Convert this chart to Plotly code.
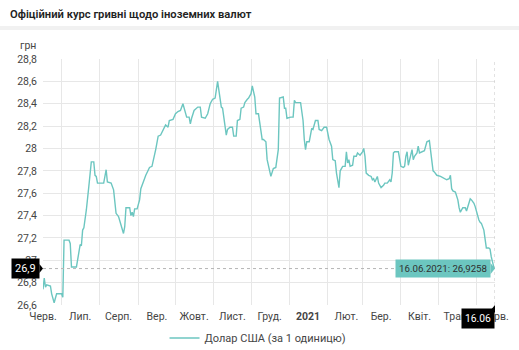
import datetime as dt
import plotly.graph_objects as go

# Official UAH/USD exchange rate (hryvnias per 1 US dollar)
dates = [
    "2020-06-16", "2020-06-17", "2020-06-18", "2020-06-19", "2020-06-22", "2020-06-23",
    "2020-06-25", "2020-06-27", "2020-07-01", "2020-07-02", "2020-07-03", "2020-07-07",
    "2020-07-08", "2020-07-09", "2020-07-13", "2020-07-15", "2020-07-16", "2020-07-17",
    "2020-07-18", "2020-07-19", "2020-07-21", "2020-07-23", "2020-07-25", "2020-07-27",
    "2020-07-28", "2020-07-29", "2020-07-30", "2020-08-04", "2020-08-05", "2020-08-06",
    "2020-08-07", "2020-08-10", "2020-08-12", "2020-08-13", "2020-08-14", "2020-08-16",
    "2020-08-18", "2020-08-20", "2020-08-21", "2020-08-22", "2020-08-25", "2020-08-26",
    "2020-08-27", "2020-08-28", "2020-08-29", "2020-08-31", "2020-09-02", "2020-09-03",
    "2020-09-05", "2020-09-07", "2020-09-10", "2020-09-12", "2020-09-15", "2020-09-17",
    "2020-09-19", "2020-09-22", "2020-09-23", "2020-09-25", "2020-09-26", "2020-09-29",
    "2020-10-01", "2020-10-03", "2020-10-05", "2020-10-07", "2020-10-08", "2020-10-10",
    "2020-10-12", "2020-10-13", "2020-10-14", "2020-10-16", "2020-10-19", "2020-10-21",
    "2020-10-22", "2020-10-25", "2020-10-27", "2020-10-29", "2020-10-31", "2020-11-02",
    "2020-11-04", "2020-11-05", "2020-11-07", "2020-11-08", "2020-11-10", "2020-11-11",
    "2020-11-12", "2020-11-14", "2020-11-16", "2020-11-17", "2020-11-19", "2020-11-20",
    "2020-11-22", "2020-11-23", "2020-11-25", "2020-11-26", "2020-11-28", "2020-11-29",
    "2020-12-01", "2020-12-02", "2020-12-04", "2020-12-05", "2020-12-07", "2020-12-08",
    "2020-12-10", "2020-12-11", "2020-12-13", "2020-12-14", "2020-12-16", "2020-12-17",
    "2020-12-19", "2020-12-21", "2020-12-23", "2020-12-24", "2020-12-27", "2020-12-28",
    "2020-12-29", "2020-12-30", "2021-01-02", "2021-01-04", "2021-01-05", "2021-01-06",
    "2021-01-10", "2021-01-12", "2021-01-13", "2021-01-14", "2021-01-15", "2021-01-17",
    "2021-01-19", "2021-01-20", "2021-01-22", "2021-01-24", "2021-01-25", "2021-01-27",
    "2021-01-29", "2021-01-31", "2021-02-02", "2021-02-04", "2021-02-05", "2021-02-07",
    "2021-02-08", "2021-02-10", "2021-02-11", "2021-02-13", "2021-02-15", "2021-02-16",
    "2021-02-17", "2021-02-18", "2021-02-19", "2021-02-21", "2021-02-22", "2021-02-24",
    "2021-02-25", "2021-02-27", "2021-03-01", "2021-03-02", "2021-03-03", "2021-03-04",
    "2021-03-06", "2021-03-08", "2021-03-09", "2021-03-10", "2021-03-11", "2021-03-13",
    "2021-03-14", "2021-03-16", "2021-03-18", "2021-03-19", "2021-03-21", "2021-03-23",
    "2021-03-24", "2021-03-25", "2021-03-26", "2021-03-27", "2021-03-30", "2021-04-01",
    "2021-04-03", "2021-04-04", "2021-04-05", "2021-04-06", "2021-04-07", "2021-04-09",
    "2021-04-10", "2021-04-11", "2021-04-12", "2021-04-14", "2021-04-15", "2021-04-16",
    "2021-04-18", "2021-04-20", "2021-04-21", "2021-04-22", "2021-04-24", "2021-04-25",
    "2021-04-26", "2021-04-27", "2021-04-28", "2021-04-30", "2021-05-03", "2021-05-05",
    "2021-05-08", "2021-05-10", "2021-05-11", "2021-05-12", "2021-05-13", "2021-05-15",
    "2021-05-17", "2021-05-18", "2021-05-19", "2021-05-21", "2021-05-23", "2021-05-24",
    "2021-05-25", "2021-05-27", "2021-05-28", "2021-05-30", "2021-05-31", "2021-06-01",
    "2021-06-03", "2021-06-04", "2021-06-05", "2021-06-07", "2021-06-08", "2021-06-09",
    "2021-06-11", "2021-06-12", "2021-06-13", "2021-06-15", "2021-06-16",
]

usd_rate = [
    26.74, 26.84, 26.76, 26.78, 26.77, 26.70,
    26.62, 26.70, 26.70, 26.67, 27.18, 27.18,
    27.15, 26.94, 26.94, 27.06, 27.14, 27.13,
    27.27, 27.29, 27.45, 27.66, 27.88, 27.88,
    27.76, 27.75, 27.69, 27.69, 27.75, 27.81,
    27.70, 27.69, 27.63, 27.54, 27.42, 27.39,
    27.32, 27.24, 27.30, 27.47, 27.47, 27.40,
    27.43, 27.39, 27.46, 27.46, 27.54, 27.64,
    27.70, 27.76, 27.83, 27.84, 27.99, 28.11,
    28.12, 28.19, 28.21, 28.19, 28.25, 28.26,
    28.31, 28.33, 28.34, 28.40, 28.35, 28.28,
    28.28, 28.22, 28.27, 28.34, 28.37, 28.37,
    28.28, 28.27, 28.31, 28.40, 28.44, 28.45,
    28.60, 28.52, 28.37, 28.36, 28.17, 28.12,
    28.17, 28.19, 28.19, 28.11, 28.11, 28.25,
    28.26, 28.36, 28.37, 28.41, 28.44, 28.45,
    28.49, 28.56, 28.46, 28.31, 28.31, 28.24,
    28.08, 28.08, 28.06, 27.90, 27.81, 27.75,
    27.82, 27.83, 27.99, 28.45, 28.46, 28.36,
    28.36, 28.27, 28.28, 28.28, 28.43, 28.41,
    28.41, 28.25, 28.08, 27.99, 28.06, 28.06,
    28.18, 28.17, 28.25, 28.25, 28.17, 28.16,
    28.19, 28.19, 28.08, 28.02, 27.90, 27.89,
    27.78, 27.65, 27.80, 27.84, 27.84, 27.97,
    27.87, 27.90, 27.84, 27.85, 27.93, 27.93,
    27.96, 27.94, 27.97, 28.00, 27.93, 27.78,
    27.76, 27.75, 27.72, 27.73, 27.70, 27.75,
    27.69, 27.65, 27.67, 27.69, 27.69, 27.72,
    27.70, 27.78, 27.96, 27.97, 27.97, 27.84,
    27.83, 27.84, 27.93, 27.97, 27.85, 27.96,
    27.99, 27.90, 27.93, 27.96, 28.02, 27.96,
    27.97, 27.98, 28.02, 28.06, 28.07, 27.96,
    27.90, 27.80, 27.79, 27.76, 27.75, 27.74,
    27.72, 27.73, 27.76, 27.64, 27.62, 27.61,
    27.54, 27.47, 27.43, 27.47, 27.47, 27.44,
    27.48, 27.55, 27.54, 27.51, 27.48, 27.43,
    27.36, 27.34, 27.33, 27.27, 27.20, 27.11,
    27.11, 27.10, 27.03, 26.94, 26.9258,
]

series_name = "Долар США (за 1 одиницю)"
title_text = "Офіційний курс гривні щодо іноземних валют"
unit_label = "грн"

# month labels sit in the middle of each month, grid lines on month starts
month_label_dates = [
    "2020-06-16", "2020-07-16", "2020-08-16", "2020-09-16", "2020-10-16", "2020-11-16",
    "2020-12-16", "2021-01-16", "2021-02-16", "2021-03-16", "2021-04-16", "2021-05-16",
    "2021-06-16",
]
month_labels = [
    "Черв.", "Лип.", "Серп.", "Вер.", "Жовт.", "Лист.", "Груд.", "<b>2021</b>",
    "Лют.", "Бер.", "Квіт.", "Трав.", "Черв.",
]
month_starts = [
    "2020-07-01", "2020-08-01", "2020-09-01", "2020-10-01", "2020-11-01", "2020-12-01",
    "2021-01-01", "2021-02-01", "2021-03-01", "2021-04-01", "2021-05-01", "2021-06-01",
]
y_ticks = [26.6, 26.8, 27.0, 27.2, 27.4, 27.6, 27.8, 28.0, 28.2, 28.4, 28.6, 28.8]

LINE = "#6cc6c0"
GRID = "#e7e7e7"
TEXT = "#454545"
FONT = "Roboto"

last_date = dates[-1]
last_value = usd_rate[-1]
last_dt = dt.date.fromisoformat(last_date)
value_full = f"{last_value:.4f}".replace(".", ",")
value_short = f"{last_value:.1f}".replace(".", ",")
tooltip_text = f"{last_dt:%d.%m.%Y}: {value_full}"
date_short = f"{last_dt:%d.%m}"

fig = go.Figure()
fig.add_trace(go.Scatter(
    x=dates, y=usd_rate, mode="lines", name=series_name,
    line=dict(color=LINE, width=1.4), showlegend=True,
))

fig.update_layout(
    width=519, height=350,
    margin=dict(l=43, r=24, t=59, b=45, autoexpand=False),
    paper_bgcolor="white", plot_bgcolor="white",
    separators=", ",
    font=dict(family=FONT, size=11, color=TEXT),
    title=dict(
        text=title_text, x=10 / 519, xref="container", xanchor="left",
        y=1 - 14 / 350, yref="container", yanchor="middle",
        font=dict(family=FONT, size=11.2, color="#222222", weight=600),
    ),
    showlegend=True,
    legend=dict(
        orientation="h", x=0.317, xref="container", xanchor="left",
        y=12 / 350, yref="container", yanchor="middle",
        font=dict(family=FONT, size=11, color=TEXT), bgcolor="rgba(0,0,0,0)",
    ),
    xaxis=dict(
        type="date", range=[dates[0], last_date],
        tickmode="array", tickvals=month_label_dates, ticktext=month_labels,
        showgrid=False, zeroline=False, showline=False, ticks="",
        ticklabelstandoff=3,
        tickfont=dict(family=FONT, size=10.5, color=TEXT),
        minor=dict(tickmode="array", tickvals=month_starts, showgrid=True,
                   gridcolor=GRID, gridwidth=1, ticks=""),
    ),
    yaxis=dict(
        range=[26.6, 28.8], tickmode="array", tickvals=y_ticks,
        showgrid=True, gridcolor=GRID, gridwidth=1, zeroline=False,
        showline=False, ticks="", ticklabelstandoff=5,
        tickfont=dict(family=FONT, size=10.5, color=TEXT),
    ),
)

# light separator under the heading
fig.add_shape(type="rect", xref="paper", yref="paper",
              x0=-43 / 452, x1=1 + 24 / 452, y0=1 + 29 / 246, y1=1 + 33 / 246,
              fillcolor="#f1f1f1", line=dict(width=0), layer="below")

# crosshair on the latest value
fig.add_shape(type="line", xref="paper", yref="y", x0=0, x1=1,
              y0=last_value, y1=last_value,
              line=dict(color="#b5b5b5", width=1, dash="dot"))
fig.add_shape(type="line", xref="x", yref="paper", x0=last_date, x1=last_date,
              y0=0, y1=1, line=dict(color="#c5c5c5", width=1, dash="dot"))

# pointer of the value flag on the y axis
fig.add_shape(type="path", xref="paper", yref="y",
              path=f"M 0,{last_value} L -0.008,{last_value + 0.04} L -0.008,{last_value - 0.04} Z",
              fillcolor="black", line=dict(width=0))
# pointer of the date flag on the x axis
fig.add_shape(type="path", xref="paper", yref="paper",
              path="M 1,0 L 1,-0.03 L 0.986,-0.03 Z",
              fillcolor="black", line=dict(width=0))
# pointer of the teal value tag
fig.add_shape(type="path", xref="paper", yref="y",
              path=f"M 1,{last_value} L 0.99,{last_value + 0.05} L 0.99,{last_value - 0.05} Z",
              fillcolor=LINE, line=dict(width=0))

fig.add_annotation(text=unit_label, xref="paper", yref="paper",
                   x=-15 / 452, y=1 + 14 / 246, xanchor="center", yanchor="middle",
                   showarrow=False, font=dict(family=FONT, size=10.5, color=TEXT))

fig.add_annotation(text=value_short, xref="paper", yref="y",
                   x=0, y=last_value, xanchor="right", yanchor="middle", xshift=-3,
                   showarrow=False, bgcolor="black", borderpad=3,
                   font=dict(family=FONT, size=11, color="white"))

fig.add_annotation(text=date_short, xref="x", yref="paper",
                   x=last_date, y=0, xanchor="right", yanchor="top", yshift=-3,
                   showarrow=False, bgcolor="black", borderpad=3,
                   font=dict(family=FONT, size=10.3, color="white"))

fig.add_annotation(text=tooltip_text, xref="x", yref="y",
                   x=last_date, y=last_value, xanchor="right", yanchor="middle",
                   xshift=-4, showarrow=False, bgcolor=LINE, borderpad=3,
                   font=dict(family=FONT, size=9.7, color="#2f2f2f"))

fig.write_html("out.html")
